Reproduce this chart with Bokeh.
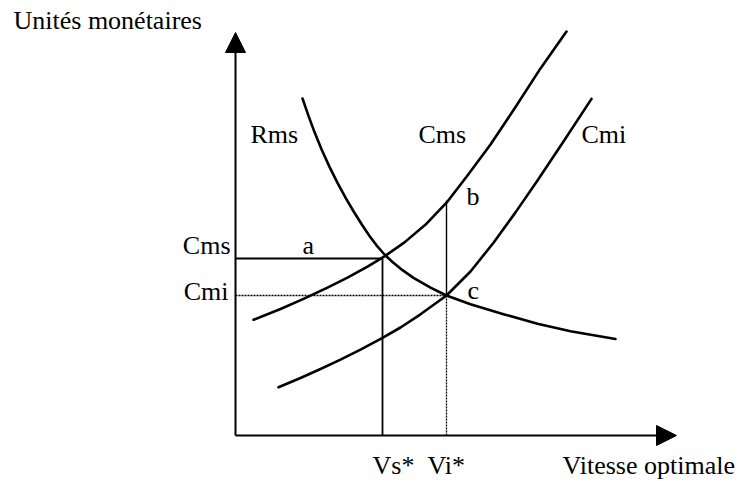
from bokeh.plotting import figure
from bokeh.models import Range1d, Arrow, NormalHead, ColumnDataSource
from bokeh.core.properties import value
from bokeh.embed import file_html
from bokeh.resources import INLINE

# ---- data (x = vitesse, y = unités monétaires) ----
rms_x = [1.675, 1.825, 1.975, 2.15, 2.35, 2.55, 2.75, 2.95, 3.15, 3.35, 3.525, 3.725,
         3.925, 4.175, 4.45, 4.875, 5.275, 5.875, 6.7, 7.55, 8.375, 9.5]
rms_y = [8.425, 7.99, 7.585, 7.156, 6.716, 6.316, 5.946, 5.606, 5.288, 4.988, 4.755, 4.525,
         4.338, 4.133, 3.94, 3.695, 3.5, 3.28, 3.033, 2.795, 2.605, 2.413]

cms_x = [0.45, 1.125, 1.7, 2.3, 2.8, 3.3, 3.725, 4.225, 4.775, 5.3, 5.8, 6.375, 7.025, 7.625, 8.275]
cms_y = [2.893, 3.163, 3.415, 3.698, 3.948, 4.223, 4.478, 4.828, 5.295, 5.848, 6.498, 7.273,
         8.248, 9.178, 10.1]

cmi_x = [1.075, 1.625, 2.125, 2.625, 3.125, 3.675, 4.125, 4.625, 5.275, 5.875, 6.45, 7.0,
         7.55, 8.2, 8.9]
cmi_y = [1.208, 1.438, 1.663, 1.898, 2.148, 2.44, 2.7, 3.03, 3.5, 4.1, 4.818, 5.578,
         6.375, 7.35, 8.415]

vs_star = 3.675     # Vs*
vi_star = 5.275     # Vi*
cms_level = 4.425   # Cms at Vs* (point a)
cmi_level = 3.5     # Cmi at Vi* (point c)
b_level = 5.875     # Cms at Vi* (point b)

x_axis_end = 11.025
y_axis_end = 10.075

FONT = value("Liberation Serif")
FS = "26px"

p = figure(width=739, height=481, output_backend="svg", toolbar_location=None,
           x_range=Range1d(-5.875, 12.6), y_range=Range1d(-1.15, 10.875),
           x_axis_type=None, y_axis_type=None, min_border=0)
p.grid.visible = False
p.outline_line_color = None
p.background_fill_color = "white"
p.border_fill_color = "white"

# axes with arrow heads
p.add_layout(Arrow(end=NormalHead(size=20, fill_color="black", line_color="black", line_width=1),
                   x_start=0, y_start=0, x_end=0, y_end=y_axis_end,
                   line_color="black", line_width=2))
p.add_layout(Arrow(end=NormalHead(size=20, fill_color="black", line_color="black", line_width=1),
                   x_start=0, y_start=0, x_end=x_axis_end, y_end=0,
                   line_color="black", line_width=2))

# guide lines
p.line([0, vs_star], [cms_level, cms_level], line_color="black", line_width=1.8)
p.line([vs_star, vs_star], [0, cms_level], line_color="black", line_width=1.8)
p.line([vi_star, vi_star], [cmi_level, b_level], line_color="black", line_width=1.4)
p.line([0, vi_star], [cmi_level, cmi_level], line_color="black", line_width=1.3, line_dash="2 1")
p.line([vi_star, vi_star], [0, cmi_level], line_color="black", line_width=1.3, line_dash="2 1")

# curves
for xs, ys in ((rms_x, rms_y), (cms_x, cms_y), (cmi_x, cmi_y)):
    p.line(xs, ys, line_color="black", line_width=2.6, line_join="round", line_cap="round")

# labels
labels_left = ColumnDataSource(dict(
    x=[-5.55, 0.375, 4.575, 8.65, 5.775, 1.675, 5.8, 3.425, 4.8, 8.175],
    y=[10.375, 7.525, 7.525, 7.525, 5.975, 4.75, 3.625, -0.75, -0.75, -0.75],
    t=["Unités monétaires", "Rms", "Cms", "Cmi", "b", "a", "c", "Vs*", "Vi*", "Vitesse optimale"],
))
p.text(x="x", y="y", text="t", source=labels_left, text_font=FONT, text_font_size=FS,
       text_color="black", text_align="left", text_baseline="alphabetic")

labels_right = ColumnDataSource(dict(
    x=[-0.125, -0.175],
    y=[4.75, 3.6],
    t=["Cms", "Cmi"],
))
p.text(x="x", y="y", text="t", source=labels_right, text_font=FONT, text_font_size=FS,
       text_color="black", text_align="right", text_baseline="alphabetic")

open("out.html", "w").write(file_html(p, INLINE))
